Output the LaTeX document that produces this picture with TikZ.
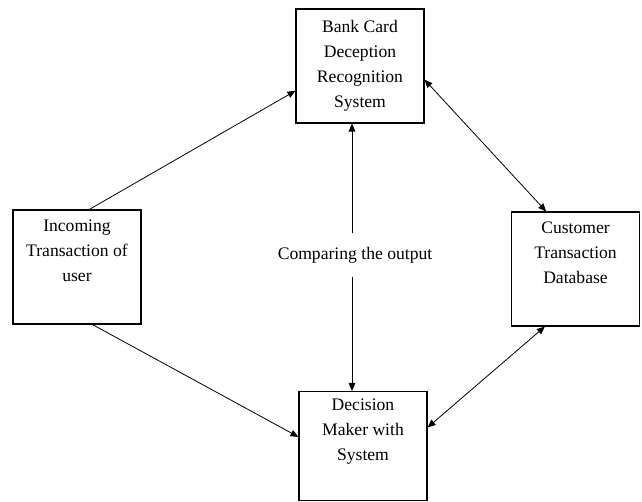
\documentclass[tikz,border=0pt]{standalone}
\usepackage{fontspec}
\setmainfont{Liberation Serif}
\usetikzlibrary{arrows.meta}

\begin{document}
\begin{tikzpicture}[x=0.75pt,y=-0.75pt,
    every node/.style={font=\fontsize{13.2}{18.75}\selectfont, align=center},
    blk/.style={draw, line width=0.8pt, minimum width=96pt, minimum height=85.5pt},
    flow/.style={-{Triangle[length=6pt,width=5pt]}, line width=0.6pt},
    both/.style={{Triangle[length=6pt,width=5pt]}-{Triangle[length=6pt,width=5pt]}, line width=0.6pt}]
    \useasboundingbox (0,0) rectangle (642,502);
    \node[blk] (bank) at (360,66) {Bank Card\\Deception\\Recognition\\System};
    \node[blk] (inc) at (77,267) {Incoming\\Transaction of\\user\\ \strut};
    \node[blk] (cust) at (575.5,269) {Customer\\Transaction\\Database\\ \strut};
    \node[blk, minimum height=81.75pt] (dec) at (363,446) {Decision\\Maker with\\System\\ \strut};
    \node[inner ysep=10pt] (cmp) at (355,255) {Comparing the output};
    \draw[flow] (inc.78) -- (bank.201); \draw[flow]
    (inc.-75) -- (dec.172); \draw[both] (bank.-12) -- (cust.117);
    \draw[both] (cust.242) -- (dec.16);
    \draw[flow] ([xshift=-2.25pt]cmp.north) -- ([xshift=-2.25pt]cmp.north |- bank.south);
    \draw[flow] ([xshift=-2.25pt]cmp.south) -- ([xshift=-2.25pt]cmp.south |- dec.north);
  \end{tikzpicture}
\end{document}
